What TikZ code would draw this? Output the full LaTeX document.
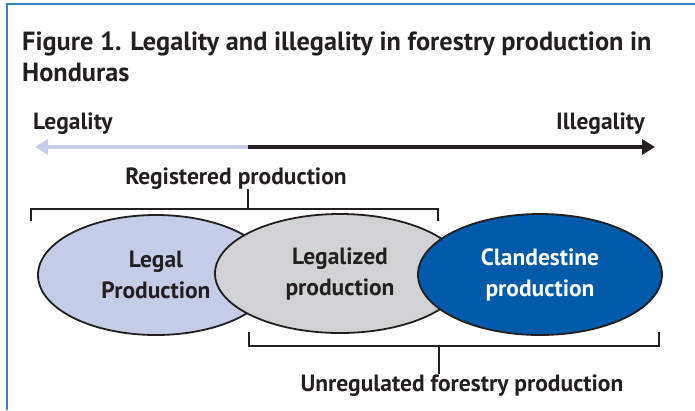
\documentclass[tikz,border=0pt]{standalone}
\usepackage{fontspec}
\setmainfont{PT Sans}
\usepackage{tikz}
\usetikzlibrary{positioning,arrows.meta,shapes.geometric}
\definecolor{inkdark}{HTML}{231F20}
\definecolor{frameblue}{HTML}{3A7FC4}
\definecolor{legalfill}{HTML}{C5CCE6}
\definecolor{legalizedfill}{HTML}{D1D2D4}
\definecolor{clandfill}{HTML}{005AAA}
\definecolor{arrowlight}{HTML}{C5CDE8}
\tikzset{
    oval/.style = {
        draw=inkdark,
        shape=ellipse,
        inner sep=0pt,
        line width=1.8pt,
        align=center,
        text=inkdark,
        font=\fontsize{23.5}{31}\selectfont\bfseries
    },
    label/.style = {
        text=inkdark,
        inner sep=0pt,
        font=\fontsize{23.5}{28}\selectfont\bfseries
    },
    heading/.style = {
        text=inkdark,
        inner sep=0pt,
        font=\fontsize{26.3}{31}\selectfont\bfseries
    },
    brace/.style = {
        draw=inkdark,
        line width=1.8pt
    },
    axis/.style = {
        line width=4.5pt,
        -{Triangle[length=13pt,width=15pt]}
    },
}
\begin{document}
\begin{tikzpicture}[x=1pt,y=-1pt]
    \useasboundingbox (0,0) rectangle (695,410);
    \draw[frameblue, line width=2pt] (7,410) -- (7,4) -- (695,4);

    \node[heading, anchor=base west] (title) at (22,50) {Figure 1. Legality and illegality in forestry production in};
    \node[heading, anchor=base west] (title2) at (22,81) {Honduras};

    \node[label, anchor=base west] (legality) at (33,129) {Legality};
    \node[label, anchor=base east] (illegality) at (645,129) {Illegality};

    \coordinate (axismid) at (248,147);
    \coordinate (axisleft) at (35,147);
    \coordinate (axisright) at (655,147);
    \path[draw, axis, arrowlight] (axismid) -- (axisleft);
    \path[draw, axis, inkdark] (axismid) -- (axisright);

    \node[label, anchor=base] (registered) at (236,184) {Registered production};

    \node[oval, fill=legalfill, minimum width=236pt, minimum height=120pt] (legal) at (156,275) {Legal\\Production};
    \node[oval, fill=legalizedfill, minimum width=250pt, minimum height=119pt] (legalized) at (340,273.5) {Legalized\\production};
    \node[oval, fill=clandfill, text=white, minimum width=244pt, minimum height=121pt] (clandestine) at (540,274.5) {Clandestine\\production};

    % bracket over registered production
    \coordinate (regtick) at (248,209);
    \path[brace] (31,221) |- (438,209) -- (438,221);
    \path[brace] (regtick) -- (registered.south -| regtick);

    % bracket under unregulated production
    \node[label, anchor=base] (unregulated) at (462,391) {Unregulated forestry production};
    \coordinate (unregtick) at (439,346);
    \path[brace] (249,332) |- (659,346) -- (659,332);
    \path[brace] (unregtick) -- (unregulated.north -| unregtick);
\end{tikzpicture}
\end{document}
